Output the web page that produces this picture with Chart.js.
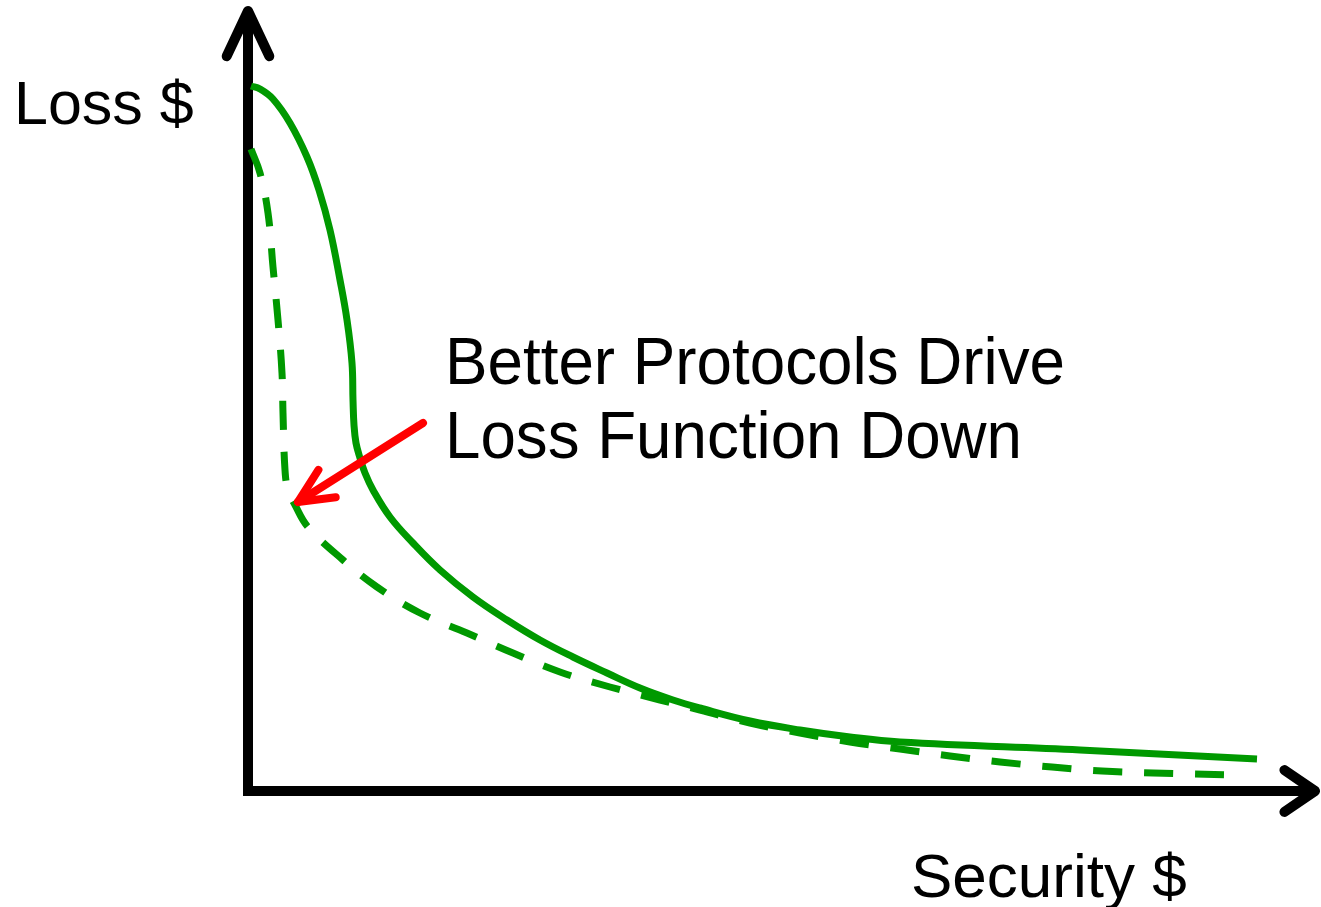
<!DOCTYPE html>
<html>
<head>
<meta charset="utf-8">
<title>Loss vs Security</title>
<script src="https://cdn.jsdelivr.net/npm/chart.js@4/dist/chart.umd.min.js"></script>
<style>
    html, body { margin: 0; padding: 0; background: #fff; }
    #wrap { width: 1321px; height: 907px; position: relative; }
</style>
</head>
<body>
<div id="wrap"><canvas id="chart"></canvas></div>
<script>
// current loss function (solid)
var currentX = [0.3, 1.2, 2.5, 4.2, 5.9, 7.1, 8.2, 9.2, 9.9, 10.4, 10.5, 10.6, 10.8, 11.2, 11.7, 12.5, 14.2, 16.5, 19.2, 22.5, 25.9, 29.2, 32.5, 35.9, 39.2, 42.5, 45.2, 50.2, 55.2, 60.2, 65.2, 83.2, 100.9];
var currentY = [70.4, 70.1, 69.1, 66.7, 63.3, 60.0, 56.0, 51.0, 47.0, 42.7, 39.0, 36.5, 34.7, 33.2, 31.7, 30.0, 27.3, 24.7, 22.0, 19.3, 17.0, 15.0, 13.3, 11.7, 10.2, 9.0, 8.2, 6.9, 6.0, 5.3, 4.8, 4.0, 3.1];

// loss function with better protocols (dashed)
var betterX = [0.3, 1.2, 2.0, 2.5, 3.0, 3.4, 3.5, 3.7, 4.0, 4.7, 6.0, 9.5, 12.9, 17.2, 21.9, 26.5, 31.2, 36.2, 41.2, 45.2, 50.2, 55.2, 60.2, 65.2, 70.2, 75.2, 80.4, 85.4, 90.5, 98.5];
var betterY = [64.1, 61.7, 57.7, 52.3, 47.0, 41.7, 37.7, 32.0, 30.0, 28.5, 26.3, 23.0, 20.3, 17.7, 15.7, 13.7, 11.8, 10.3, 9.0, 8.0, 6.7, 5.7, 4.8, 4.1, 3.4, 2.8, 2.3, 1.9, 1.7, 1.5];

// annotation arrow (from text towards the dashed curve)
var arrowX = [17.5, 5.0];
var arrowY = [36.7, 28.8];

var X_MAX = 107;
var Y_MAX = 78;

var labelText = {
    y: 'Loss $',
    x: 'Security $',
    note: ['Better Protocols Drive', 'Loss Function Down']
};

function toPoints(xs, ys) {
    return xs.map(function (x, i) { return { x: x, y: ys[i] }; });
}

function head(ctx, tx, ty, angle, len, spread) {
    ctx.beginPath();
    ctx.moveTo(tx + len * Math.cos(angle - spread), ty + len * Math.sin(angle - spread));
    ctx.lineTo(tx, ty);
    ctx.lineTo(tx + len * Math.cos(angle + spread), ty + len * Math.sin(angle + spread));
    ctx.stroke();
}

var axesPlugin = {
    id: 'axesPlugin',
    beforeDatasetsDraw: function (chart) {
        var ctx = chart.ctx;
        var xs = chart.scales.x, ys = chart.scales.y;
        var x0 = xs.getPixelForValue(0), y0 = ys.getPixelForValue(0);
        var yTop = ys.getPixelForValue(Y_MAX) - 2;
        var xEnd = xs.getPixelForValue(X_MAX);
        ctx.save();
        ctx.strokeStyle = '#000';
        ctx.lineWidth = 10;
        ctx.lineCap = 'butt';
        ctx.beginPath();
        ctx.moveTo(x0, y0 + 6);
        ctx.lineTo(x0, yTop + 4);
        ctx.moveTo(x0 - 5, y0 + 1);
        ctx.lineTo(xEnd - 4, y0 + 1);
        ctx.stroke();
        ctx.lineCap = 'round';
        ctx.lineJoin = 'round';
        // y arrow points up, x arrow points right
        head(ctx, x0, yTop + 3, Math.PI / 2, 50, 0.44);
        head(ctx, xEnd - 3, y0 + 1, Math.PI, 37, 0.6);
        ctx.restore();
    },
    afterDatasetsDraw: function (chart) {
        var ctx = chart.ctx;
        var meta = chart.getDatasetMeta(0);
        var p0 = meta.data[0], p1 = meta.data[1];
        var ang = Math.atan2(p0.y - p1.y, p0.x - p1.x);
        ctx.save();
        ctx.strokeStyle = '#ff0000';
        ctx.lineWidth = 8;
        ctx.lineCap = 'round';
        ctx.lineJoin = 'round';
        head(ctx, p1.x, p1.y, ang, 38, 0.44);
        ctx.restore();
    },
    afterDraw: function (chart) {
        var ctx = chart.ctx;
        ctx.save();
        ctx.fillStyle = '#000';
        ctx.textBaseline = 'alphabetic';
        ctx.font = '61px "Liberation Sans", Arial, sans-serif';
        ctx.fillText(labelText.y, 14, 124);
        ctx.font = '62px "Liberation Sans", Arial, sans-serif';
        ctx.fillText(labelText.x, 911, 897);
        ctx.font = '66px "Liberation Sans", Arial, sans-serif';
        ctx.fillText(labelText.note[0], 445, 384, 620);
        ctx.fillText(labelText.note[1], 445, 458, 577);
        ctx.restore();
    }
};

new Chart(document.getElementById('chart'), {
    type: 'scatter',
    data: {
        datasets: [{
            data: toPoints(arrowX, arrowY),
            showLine: true,
            borderColor: '#ff0000',
            borderWidth: 8,
            borderCapStyle: 'round',
            pointRadius: 0,
            order: 0
        }, {
            data: toPoints(currentX, currentY),
            showLine: true,
            borderColor: '#009900',
            borderWidth: 7,
            tension: 0.4,
            pointRadius: 0,
            order: 1
        }, {
            data: toPoints(betterX, betterY),
            showLine: true,
            borderColor: '#009900',
            borderWidth: 7,
            borderDash: [29, 22],
            tension: 0.4,
            pointRadius: 0,
            order: 2
        }]
    },
    options: {
        responsive: true,
        maintainAspectRatio: false,
        animation: false,
        devicePixelRatio: 1,
        layout: { padding: { left: 248, top: 10, right: 3, bottom: 117 } },
        clip: false,
        scales: {
            x: { type: 'linear', min: 0, max: X_MAX, display: false },
            y: { type: 'linear', min: 0, max: Y_MAX, display: false }
        },
        plugins: {
            legend: { display: false },
            tooltip: { enabled: false }
        }
    },
    plugins: [axesPlugin]
});
</script>
</body>
</html>
